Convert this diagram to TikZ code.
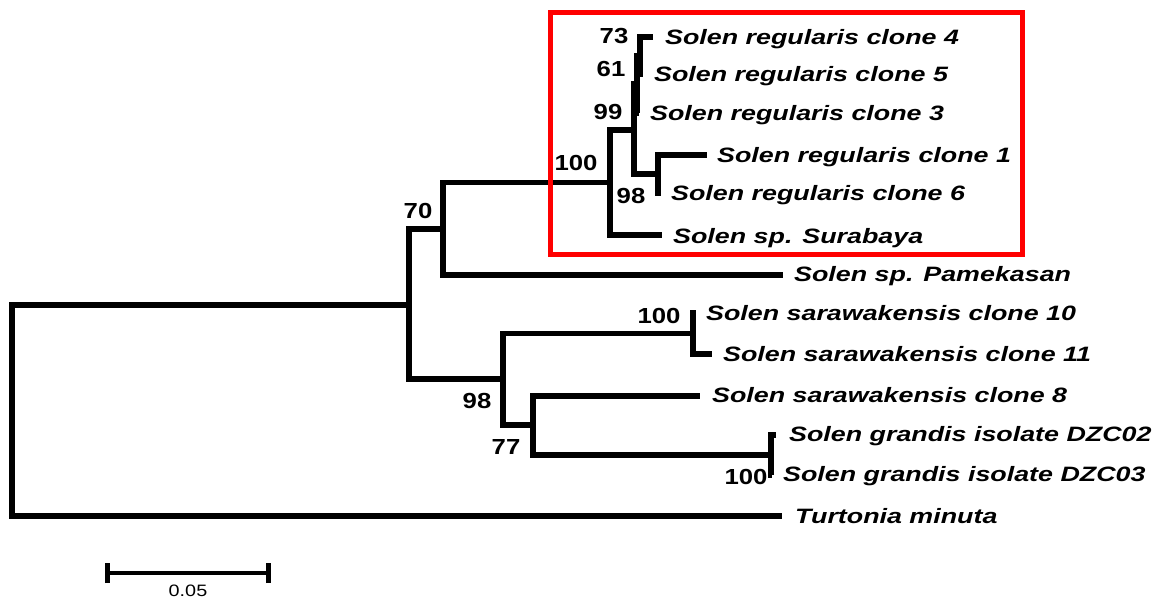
\documentclass[tikz,border=0pt]{standalone}
\usepackage{fontspec}
\setmainfont{Liberation Sans}
% wide-set lettering used throughout the tree
\newcommand\widetaxon[1]{\scalebox{1.29}[1]{#1}}
\newcommand\widenum[1]{\scalebox{1.18}[1]{#1}}
\newcommand\widescale[1]{\scalebox{1.2}[1]{#1}}
\begin{document}
\begin{tikzpicture}[x=1pt,y=-1pt,
  branch/.style={line width=5.2pt, line join=miter, line cap=butt},
  taxon/.style={inner sep=0pt, anchor=base west, font=\fontsize{20.8}{22}\selectfont\bfseries\itshape},
  boot/.style={inner sep=0pt, anchor=center, font=\fontsize{21.8}{23}\selectfont\bfseries},
  scalelabel/.style={inner sep=0pt, anchor=center, font=\fontsize{16.5}{18}\selectfont},
  cladebox/.style={draw=red, line width=5pt}]
\useasboundingbox (0,0) rectangle (1157,603);

% internal nodes
\coordinate (root)  at (12,410.5);
\coordinate (nA)    at (409,305);
\coordinate (n70)   at (443,229);
\coordinate (n100a) at (610,182.5);
\coordinate (n99)   at (634,130);
\coordinate (n61)   at (637,84);
\coordinate (n73)   at (640,55.5);
\coordinate (n98a)  at (658,174);
\coordinate (n98b)  at (503,379);
\coordinate (n100b) at (693,333.5);
\coordinate (n77)   at (533,425);
\coordinate (n100c) at (771,455);

% branch tips
\coordinate (c4)  at (653,37);
\coordinate (c5)  at (643,74);
\coordinate (c3)  at (639,113);
\coordinate (c1)  at (707,155);
\coordinate (c6)  at (661,193);
\coordinate (sur) at (662,235);
\coordinate (pam) at (783,275);
\coordinate (s10) at (696,313);
\coordinate (s11) at (712,354);
\coordinate (s8)  at (700,396);
\coordinate (g2)  at (776,435);
\coordinate (g3)  at (772,475);
\coordinate (tur) at (782,516);

% branches
\draw[branch] (root) |- (nA);   \draw[branch] (root) |- (tur);
\draw[branch] (nA) |- (n70);    \draw[branch] (nA) |- (n98b);
\draw[branch] (n70) |- (n100a); \draw[branch] (n70) |- (pam);
\draw[branch] (n100a) |- (n99); \draw[branch] (n100a) |- (sur);
\draw[branch] (n99) |- (n61);   \draw[branch] (n99) |- (n98a);
\draw[branch] (n61) |- (n73);   \draw[branch] (n61) |- (c3);
\draw[branch] (n73) |- (c4);    \draw[branch] (n73) |- (c5);
\draw[branch] (n98a) |- (c1);   \draw[branch] (n98a) |- (c6);
\draw[branch] (n98b) |- (n100b);\draw[branch] (n98b) |- (n77);
\draw[branch] (n100b) |- (s10); \draw[branch] (n100b) |- (s11);
\draw[branch] (n77) |- (s8);    \draw[branch] (n77) |- (n100c);
\draw[branch] (n100c) |- (g2);  \draw[branch] (n100c) |- (g3);

% taxon names
\node[taxon] (tc4)  at (665,44)  {\widetaxon{Solen regularis clone 4}};
\node[taxon] (tc5)  at (654,81)  {\widetaxon{Solen regularis clone 5}};
\node[taxon] (tc3)  at (650,120) {\widetaxon{Solen regularis clone 3}};
\node[taxon] (tc1)  at (717,162) {\widetaxon{Solen regularis clone 1}};
\node[taxon] (tc6)  at (671,200) {\widetaxon{Solen regularis clone 6}};
\node[taxon] (tsur) at (673,243) {\widetaxon{Solen sp. Surabaya}};
\node[taxon] (tpam) at (794,281) {\widetaxon{Solen sp. Pamekasan}};
\node[taxon] (ts10) at (706,320) {\widetaxon{Solen sarawakensis clone 10}};
\node[taxon] (ts11) at (723,361) {\widetaxon{Solen sarawakensis clone 11}};
\node[taxon] (ts8)  at (712,402) {\widetaxon{Solen sarawakensis clone 8}};
\node[taxon] (tg2)  at (789,441) {\widetaxon{Solen grandis isolate DZC02}};
\node[taxon] (tg3)  at (783,481) {\widetaxon{Solen grandis isolate DZC03}};
\node[taxon] (ttur) at (795,523) {\widetaxon{Turtonia minuta}};

% bootstrap values
\node[boot] (b73)   at (614,36)  {\widenum{73}};
\node[boot] (b61)   at (611,69)  {\widenum{61}};
\node[boot] (b99)   at (608,112) {\widenum{99}};
\node[boot] (b100a) at (576,163) {\widenum{100}};
\node[boot] (b98a)  at (631,196) {\widenum{98}};
\node[boot] (b70)   at (418,211) {\widenum{70}};
\node[boot] (b100b) at (659,316) {\widenum{100}};
\node[boot] (b98b)  at (477,401) {\widenum{98}};
\node[boot] (b77)   at (506,447) {\widenum{77}};
\node[boot] (b100c) at (746,477) {\widenum{100}};

% highlighted clade
\draw[cladebox] (550,12.5) rectangle (1022,254);

% scale bar
\coordinate (sbL) at (107,573);
\coordinate (sbR) at (268,573);
\draw[line width=4.5pt] (sbL) -- (sbR);
\draw[line width=5pt] ([yshift=-10pt]sbL) -- ([yshift=10pt]sbL);
\draw[line width=5pt] ([yshift=-10pt]sbR) -- ([yshift=10pt]sbR);
\node[scalelabel] (sblab) at (188,591) {\widescale{0.05}};
\end{tikzpicture}
\end{document}
